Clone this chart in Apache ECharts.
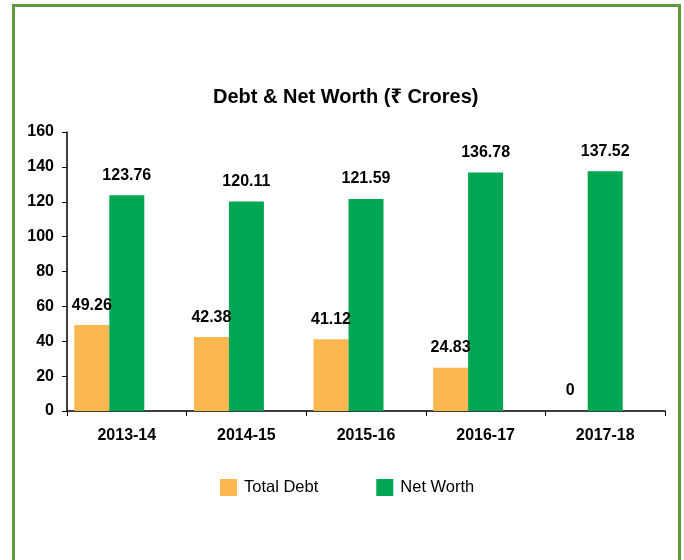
<!DOCTYPE html>
<html>
<head>
<meta charset="utf-8">
<script src="https://cdn.jsdelivr.net/npm/echarts@6/dist/echarts.min.js"></script>
<style>
  html, body { margin: 0; padding: 0; background: #fff; }
  #chart { width: 684px; height: 560px; }
</style>
</head>
<body>
<div id="chart"></div>
<script>
// values
var years = ['2013-14', '2014-15', '2015-16', '2016-17', '2017-18'];
var totalDebt = [49.26, 42.38, 41.12, 24.83, 0];
var netWorth = [123.76, 120.11, 121.59, 136.78, 137.52];
// the source chart keeps room for a third, empty column in each group
var emptySlot = ['-', '-', '-', '-', '-'];
var yTicks = [0, 20, 40, 60, 80, 100, 120, 140, 160];

var font = "'Liberation Sans', Arial, 'Noto Sans', sans-serif";

var barLabel = {
  show: true,
  position: 'top',
  distance: 12,
  color: '#000',
  fontFamily: font,
  fontWeight: 'bold',
  fontSize: 16
};

var chart = echarts.init(document.getElementById('chart'));
chart.setOption({
  animation: false,
  backgroundColor: '#fff',
  graphic: [{
    type: 'rect',
    shape: { x: 13.5, y: 5.5, width: 666, height: 620 },
    style: { fill: 'none', stroke: '#5E9B3A', lineWidth: 3 },
    silent: true
  }],
  title: {
    text: 'Debt & Net Worth (₹ Crores)',
    left: 208,
    top: 82,
    textStyle: { fontFamily: font, fontWeight: 'bold', fontSize: 20, color: '#000' }
  },
  legend: {
    data: ['Total Debt', 'Net Worth'],
    left: 215,
    top: 474,
    icon: 'rect',
    itemWidth: 17,
    itemHeight: 17,
    itemGap: 58,
    textStyle: { fontFamily: font, fontSize: 16.5, color: '#000', padding: [0, 0, 0, 2] }
  },
  grid: { left: 67, right: 19, top: 132, bottom: 149, containLabel: false },
  xAxis: {
    type: 'category',
    data: years,
    axisLine: { lineStyle: { color: '#000', width: 1.5 } },
    axisTick: { show: true, length: 5, lineStyle: { color: '#000' } },
    axisLabel: { margin: 17, color: '#000', fontFamily: font, fontWeight: 'bold', fontSize: 16 }
  },
  yAxis: {
    type: 'value',
    min: yTicks[0],
    max: yTicks[yTicks.length - 1],
    interval: yTicks[1] - yTicks[0],
    splitLine: { show: false },
    axisLine: { show: true, lineStyle: { color: '#000', width: 1.5 } },
    axisTick: { show: true, length: 5, lineStyle: { color: '#000' } },
    axisLabel: { margin: 13, color: '#000', fontFamily: font, fontWeight: 'bold', fontSize: 16 }
  },
  series: [
    {
      name: 'Total Debt',
      type: 'bar',
      data: totalDebt,
      barWidth: 35,
      barGap: '0%',
      itemStyle: { color: '#FBB850' },
      label: barLabel
    },
    {
      name: 'Net Worth',
      type: 'bar',
      data: netWorth,
      barWidth: 35,
      barGap: '0%',
      itemStyle: { color: '#00A651' },
      label: barLabel
    },
    {
      name: 'spacer',
      type: 'bar',
      data: emptySlot,
      barWidth: 35,
      barGap: '0%',
      silent: true
    }
  ]
});
</script>
</body>
</html>
